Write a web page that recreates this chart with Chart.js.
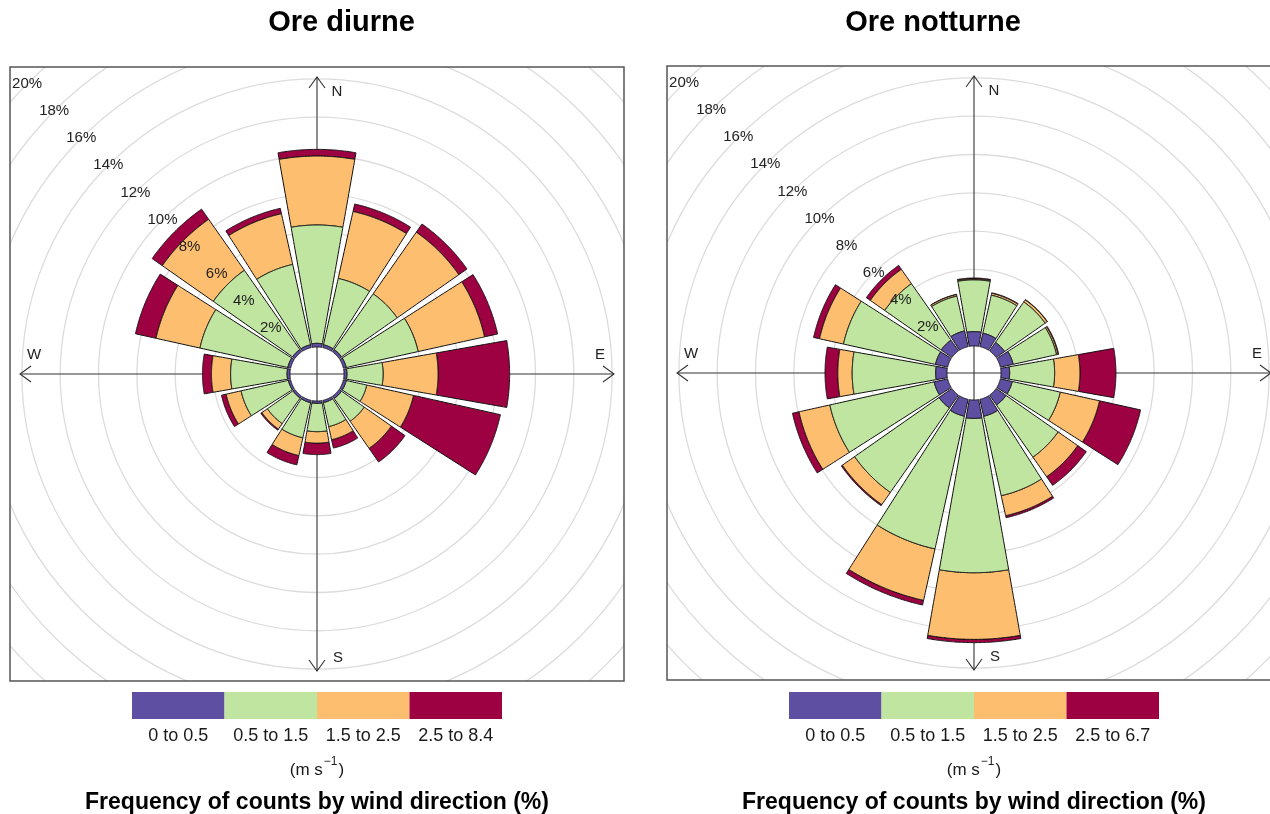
<!DOCTYPE html>
<html>
<head>
<meta charset="utf-8">
<title>Wind rose – ore diurne / ore notturne</title>
<script src="https://cdn.jsdelivr.net/npm/chart.js@4.4.1/dist/chart.umd.min.js"></script>
<style>
  html, body { margin: 0; padding: 0; background: #ffffff; }
  #wrap { position: relative; width: 1270px; height: 814px; overflow: hidden; background: #ffffff; }
  #wrap canvas { position: absolute; top: 0; }
  #day { left: 0; }
  #night { left: 640px; }
</style>
</head>
<body>
<div id="wrap">
  <canvas id="day" width="640" height="814"></canvas>
  <canvas id="night" width="660" height="814"></canvas>
</div>
<script>
// ---- data -------------------------------------------------------------
const directions = ['N', 'NNE', 'NE', 'ENE', 'E', 'ESE', 'SE', 'SSE',
                    'S', 'SSW', 'SW', 'WSW', 'W', 'WNW', 'NW', 'NNW'];
const directionAngles = [0, 22.5, 45, 67.5, 90, 112.5, 135, 157.5,
                         180, 202.5, 225, 247.5, 270, 292.5, 315, 337.5];
const ringPercents = [2, 4, 6, 8, 10, 12, 14, 16, 18, 20];
const ringLabels = ['2%', '4%', '6%', '8%', '10%', '12%', '14%', '16%', '18%', '20%'];
const compassLabels = ['N', 'E', 'S', 'W'];

const daySpeedLabels = ['0 to 0.5', '0.5 to 1.5', '1.5 to 2.5', '2.5 to 8.4'];
const nightSpeedLabels = ['0 to 0.5', '0.5 to 1.5', '1.5 to 2.5', '2.5 to 6.7'];
const speedColours = ['#5E4FA2', '#BFE5A0', '#FDBF6F', '#9E0142'];

// frequency (%) of each speed class per direction – daytime hours
const dayCalm     = [0.19, 0.15, 0.15, 0.15, 0.15, 0.15, 0.15, 0.12, 0.12, 0.12, 0.12, 0.12, 0.15, 0.15, 0.15, 0.15];
const dayLight    = [6.18, 3.55, 3.55, 3.85, 1.89, 1.10, 1.45, 1.28, 1.48, 1.88, 1.63, 2.53, 2.95, 4.70, 5.05, 4.30];
const dayModerate = [3.60, 3.58, 3.93, 3.55, 2.87, 2.50, 1.73, 0.70, 0.60, 0.95, 0.35, 0.80, 1.00, 2.35, 3.25, 2.71];
const dayStrong   = [0.35, 0.40, 0.52, 0.70, 3.74, 4.65, 0.87, 0.45, 0.60, 0.50, 0.07, 0.25, 0.47, 1.10, 0.65, 0.29];

// frequency (%) of each speed class per direction – night-time hours
const nightCalm     = [0.75, 0.72, 0.54, 0.68, 0.45, 0.63, 0.63, 0.90, 0.96, 0.90, 0.82, 0.72, 0.59, 0.65, 0.68, 0.84];
const nightLight    = [2.70, 2.03, 2.58, 2.32, 2.35, 2.57, 3.32, 4.25, 8.06, 7.10, 5.38, 5.58, 4.36, 4.92, 3.60, 1.86];
const nightModerate = [0.05, 0.10, 0.13, 0.08, 1.32, 2.10, 1.25, 1.07, 3.48, 2.75, 0.78, 1.65, 0.75, 1.28, 0.92, 0.08];
const nightStrong   = [0.05, 0.03, 0.02, 0.04, 1.88, 2.20, 0.55, 0.11, 0.17, 0.25, 0.07, 0.35, 0.67, 0.32, 0.25, 0.02];

// ---- geometry of the rose ---------------------------------------------
const PX_PER_PCT = 19.15;          // radial pixels per 1 %
const BOX = 614;                   // side of the square plot frame (px)
const HALF_RANGE = BOX / 2 / PX_PER_PCT;
const HOLE = 27 / PX_PER_PCT;      // empty centre, in % units
const AXIS_LEN = 297 / PX_PER_PCT; // compass axis length, in % units
const HALF_WIDTH = 10;             // half opening of each petal (deg)
const ARC_STEPS = 24;
const FONT = '"Liberation Sans", Arial, Helvetica, sans-serif';

function petal(angle, r0, r1) {
  const pts = [];
  const toRad = Math.PI / 180;
  for (let s = 0; s <= ARC_STEPS; s++) {
    const a = (angle - HALF_WIDTH + 2 * HALF_WIDTH * s / ARC_STEPS) * toRad;
    pts.push({ x: r1 * Math.sin(a), y: r1 * Math.cos(a) });
  }
  for (let s = ARC_STEPS; s >= 0; s--) {
    const a = (angle - HALF_WIDTH + 2 * HALF_WIDTH * s / ARC_STEPS) * toRad;
    pts.push({ x: r0 * Math.sin(a), y: r0 * Math.cos(a) });
  }
  pts.push({ x: pts[0].x, y: pts[0].y });
  return pts;
}

function roseDatasets(classes, labels) {
  const out = [];
  directions.forEach((dir, i) => {
    let cum = 0;
    classes.forEach((series, b) => {
      const v = series[i];
      if (v > 0) {
        out.push({
          label: dir + ' ' + labels[b],
          data: petal(directionAngles[i], HOLE + cum, HOLE + cum + v),
          showLine: true,
          fill: 'shape',
          backgroundColor: speedColours[b],
          borderColor: '#111111',
          borderWidth: 1,
          pointRadius: 0,
          pointHoverRadius: 0,
          tension: 0.0001
        });
      }
      cum += v;
    });
  });
  return out;
}

// ---- decoration: rings, compass axes, labels, key ----------------------
const rosePlugin = {
  id: 'roseFrame',
  beforeDatasetsDraw(chart) {
    const { ctx, chartArea: a, scales: { x, y } } = chart;
    const cx = x.getPixelForValue(0), cy = y.getPixelForValue(0);
    const k = x.getPixelForValue(1) - cx;
    ctx.save();
    ctx.beginPath();
    ctx.rect(a.left, a.top, a.right - a.left, a.bottom - a.top);
    ctx.clip();
    ctx.strokeStyle = '#DCDCDC';
    ctx.lineWidth = 1.3;
    ringPercents.forEach(p => {
      ctx.beginPath();
      ctx.arc(cx, cy, (HOLE + p) * k, 0, Math.PI * 2);
      ctx.stroke();
    });
    // compass axes with open arrow heads
    ctx.strokeStyle = '#333333';
    ctx.lineWidth = 1.1;
    const ends = [[0, AXIS_LEN], [AXIS_LEN, 0], [0, -AXIS_LEN], [-AXIS_LEN, 0]];
    ends.forEach(([ex, ey]) => {
      const tx = x.getPixelForValue(ex), ty = y.getPixelForValue(ey);
      ctx.beginPath();
      ctx.moveTo(cx, cy);
      ctx.lineTo(tx, ty);
      ctx.stroke();
      const len = Math.hypot(tx - cx, ty - cy);
      const ux = (tx - cx) / len, uy = (ty - cy) / len;
      const back = 11, side = 8;
      ctx.beginPath();
      ctx.moveTo(tx - ux * back - uy * side, ty - uy * back + ux * side);
      ctx.lineTo(tx, ty);
      ctx.lineTo(tx - ux * back + uy * side, ty - uy * back - ux * side);
      ctx.stroke();
    });
    ctx.restore();
  },
  afterDatasetsDraw(chart, args, opts) {
    const { ctx, chartArea: a, scales: { x, y } } = chart;
    const cx = x.getPixelForValue(0), cy = y.getPixelForValue(0);
    ctx.save();
    ctx.beginPath();
    ctx.rect(a.left, a.top, a.right - a.left, a.bottom - a.top);
    ctx.clip();
    ctx.fillStyle = '#222222';
    ctx.font = '15px ' + FONT;
    ctx.textAlign = 'center';
    ctx.textBaseline = 'middle';
    const d = Math.SQRT1_2;
    ringPercents.forEach((p, i) => {
      const r = HOLE + p;
      ctx.fillText(ringLabels[i], x.getPixelForValue(-r * d), y.getPixelForValue(r * d));
    });
    // compass letters
    const letterPos = [[20, -282], [283, -19], [21, 284], [-283, -19]];
    compassLabels.forEach((t, i) => {
      ctx.fillText(t, cx + letterPos[i][0], cy + letterPos[i][1]);
    });
    ctx.restore();

    // frame
    ctx.save();
    ctx.strokeStyle = '#555555';
    ctx.lineWidth = 1.5;
    ctx.strokeRect(a.left, a.top, a.right - a.left, a.bottom - a.top);
    ctx.restore();
  },
  afterDraw(chart, args, opts) {
    const { ctx, scales: { x } } = chart;
    const cx = x.getPixelForValue(0);
    ctx.save();
    ctx.fillStyle = '#000000';
    ctx.textAlign = 'center';
    ctx.textBaseline = 'middle';
    ctx.font = 'bold 29px ' + FONT;
    ctx.fillText(opts.title, opts.titleX, 23);

    // colour key
    const keyW = 370, segW = keyW / 4, keyTop = 692, keyH = 27;
    opts.speedLabels.forEach((lab, b) => {
      const left = cx - keyW / 2 + b * segW;
      ctx.fillStyle = speedColours[b];
      ctx.fillRect(left, keyTop, segW, keyH);
      ctx.fillStyle = '#1a1a1a';
      ctx.font = '18px ' + FONT;
      ctx.fillText(lab, left + segW / 2, 736);
    });

    // units  (m s^-1)
    ctx.font = '17px ' + FONT;
    const partA = '(m s', partB = '\u22121', partC = ')';
    const wA = ctx.measureText(partA).width;
    const wC = ctx.measureText(partC).width;
    ctx.font = '12px ' + FONT;
    const wB = ctx.measureText(partB).width;
    let ux = cx - (wA + wB + wC + 2) / 2;
    ctx.textAlign = 'left';
    ctx.fillStyle = '#1a1a1a';
    ctx.font = '17px ' + FONT;
    ctx.fillText(partA, ux, 770);
    ctx.font = '12px ' + FONT;
    ctx.fillText(partB, ux + wA + 1, 762);
    ctx.font = '17px ' + FONT;
    ctx.fillText(partC, ux + wA + wB + 2, 770);

    ctx.textAlign = 'center';
    ctx.fillStyle = '#000000';
    ctx.font = 'bold 23px ' + FONT;
    ctx.fillText('Frequency of counts by wind direction (%)', cx, 803);
    ctx.restore();
  }
};

function makeRose(canvasId, classes, speedLabels, title, titleX, padding) {
  return new Chart(document.getElementById(canvasId), {
    type: 'scatter',
    data: { datasets: roseDatasets(classes, speedLabels) },
    options: {
      responsive: false,
      animation: false,
      devicePixelRatio: 1,
      events: [],
      layout: { padding },
      scales: {
        x: { type: 'linear', min: -HALF_RANGE, max: HALF_RANGE, display: false },
        y: { type: 'linear', min: -HALF_RANGE, max: HALF_RANGE, display: false }
      },
      plugins: {
        legend: { display: false },
        tooltip: { enabled: false },
        roseFrame: { title, titleX, speedLabels }
      }
    },
    plugins: [rosePlugin]
  });
}

makeRose('day', [dayCalm, dayLight, dayModerate, dayStrong], daySpeedLabels,
         'Ore diurne', 341.5, { left: 10, top: 67, right: 16, bottom: 133 });
makeRose('night', [nightCalm, nightLight, nightModerate, nightStrong], nightSpeedLabels,
         'Ore notturne', 293, { left: 27, top: 66, right: 19, bottom: 134 });
</script>
</body>
</html>
